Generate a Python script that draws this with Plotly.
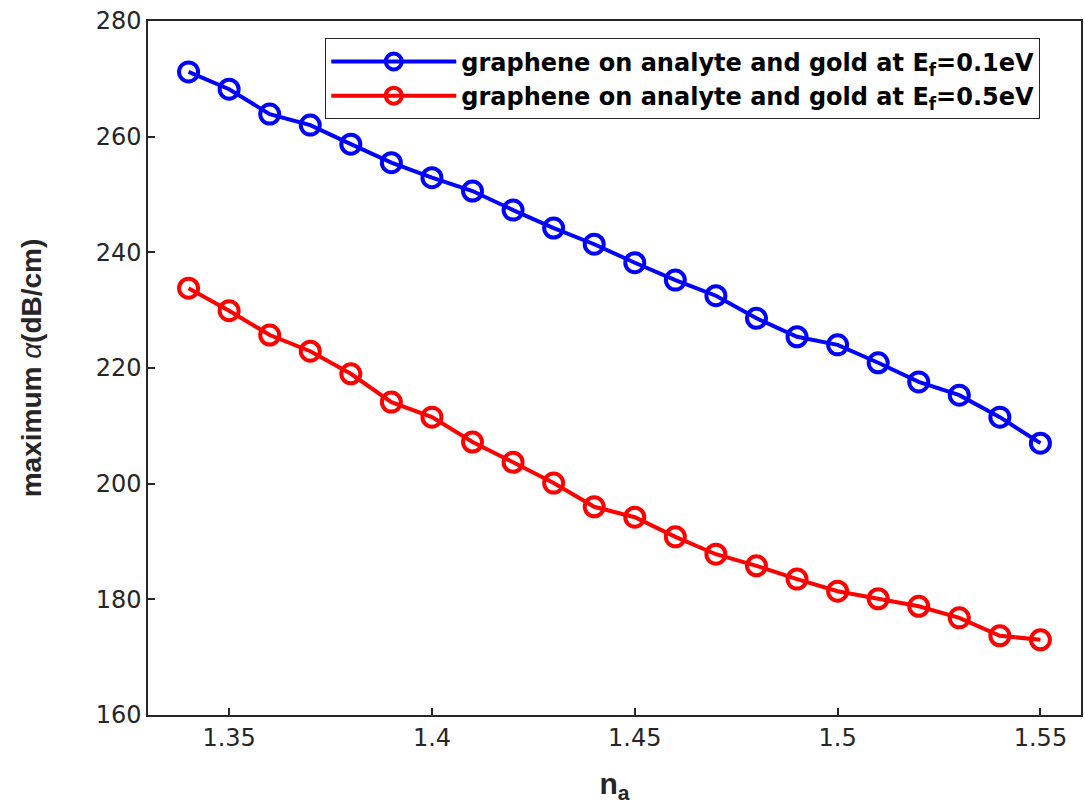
import plotly.graph_objects as go

n_a = [1.34, 1.35, 1.36, 1.37, 1.38, 1.39, 1.40, 1.41, 1.42, 1.43, 1.44,
       1.45, 1.46, 1.47, 1.48, 1.49, 1.50, 1.51, 1.52, 1.53, 1.54, 1.55]
alpha_ef01 = [271.2, 268.2, 263.9, 262.0, 258.7, 255.5, 252.9, 250.6, 247.3, 244.2, 241.4,
              238.2, 235.2, 232.5, 228.6, 225.4, 224.0, 220.9, 217.6, 215.3, 211.5, 207.0]
alpha_ef05 = [233.8, 229.9, 225.7, 222.9, 219.0, 214.1, 211.5, 207.2, 203.7, 200.1, 196.0,
              194.2, 190.8, 187.8, 185.8, 183.5, 181.4, 180.1, 178.8, 176.8, 173.7, 173.0]
names = ["graphene on analyte and gold at E<sub>f</sub>=0.1eV",
         "graphene on analyte and gold at E<sub>f</sub>=0.5eV"]
colors = ["#0000FF", "#FF0000"]
xticks = [1.35, 1.4, 1.45, 1.5, 1.55]
xticklabels = ["1.35", "1.4", "1.45", "1.5", "1.55"]
yticks = [160, 180, 200, 220, 240, 260, 280]

fig = go.Figure()
for ys, nm, c in zip([alpha_ef01, alpha_ef05], names, colors):
    fig.add_trace(go.Scatter(
        x=n_a, y=ys, name=nm, mode="lines+markers",
        line=dict(color=c, width=4),
        marker=dict(symbol="circle-open", size=19, color=c, line=dict(width=4, color=c)),
    ))

tick_font = dict(size=24, color="#262626", family="DejaVu Sans, Liberation Sans, Arial")
fig.update_layout(
    width=1085, height=807,
    margin=dict(l=148, r=2, t=21, b=92),
    plot_bgcolor="white", paper_bgcolor="white",
    font=dict(family="DejaVu Sans, Liberation Sans, Arial, sans-serif", color="#262626"),
    legend=dict(
        x=0.19, y=0.975, xanchor="left", yanchor="top",
        bgcolor="white", bordercolor="#262626", borderwidth=1,
        font=dict(size=24, color="black", family="DejaVu Sans, Liberation Sans, Arial", weight="bold"),
        itemwidth=125, tracegroupgap=0,
    ),
    showlegend=True,
)
fig.update_xaxes(
    range=[1.33, 1.56], tickvals=xticks, ticktext=xticklabels,
    ticks="inside", ticklen=7, tickwidth=1.5, tickcolor="#262626",
    showline=True, linecolor="#262626", linewidth=1.5, mirror=True,
    showgrid=False, zeroline=False,
    tickfont=tick_font,
    title=dict(text="<b>n<sub>a</sub></b>",
               font=dict(size=30, color="#262626", family="Liberation Sans, Arial"), standoff=22),
)
fig.update_yaxes(
    range=[160, 280], tickvals=yticks,
    ticks="inside", ticklen=7, tickwidth=1.5, tickcolor="#262626",
    showline=True, linecolor="#262626", linewidth=1.5, mirror=True,
    showgrid=False, zeroline=False,
    tickfont=tick_font,
    title=dict(text="<b>maximum </b><i>α</i><b>(dB/cm)</b>",
               font=dict(size=28, color="#262626", family="Liberation Sans, Arial"),
               standoff=46),
)

fig.write_html("out.html")
